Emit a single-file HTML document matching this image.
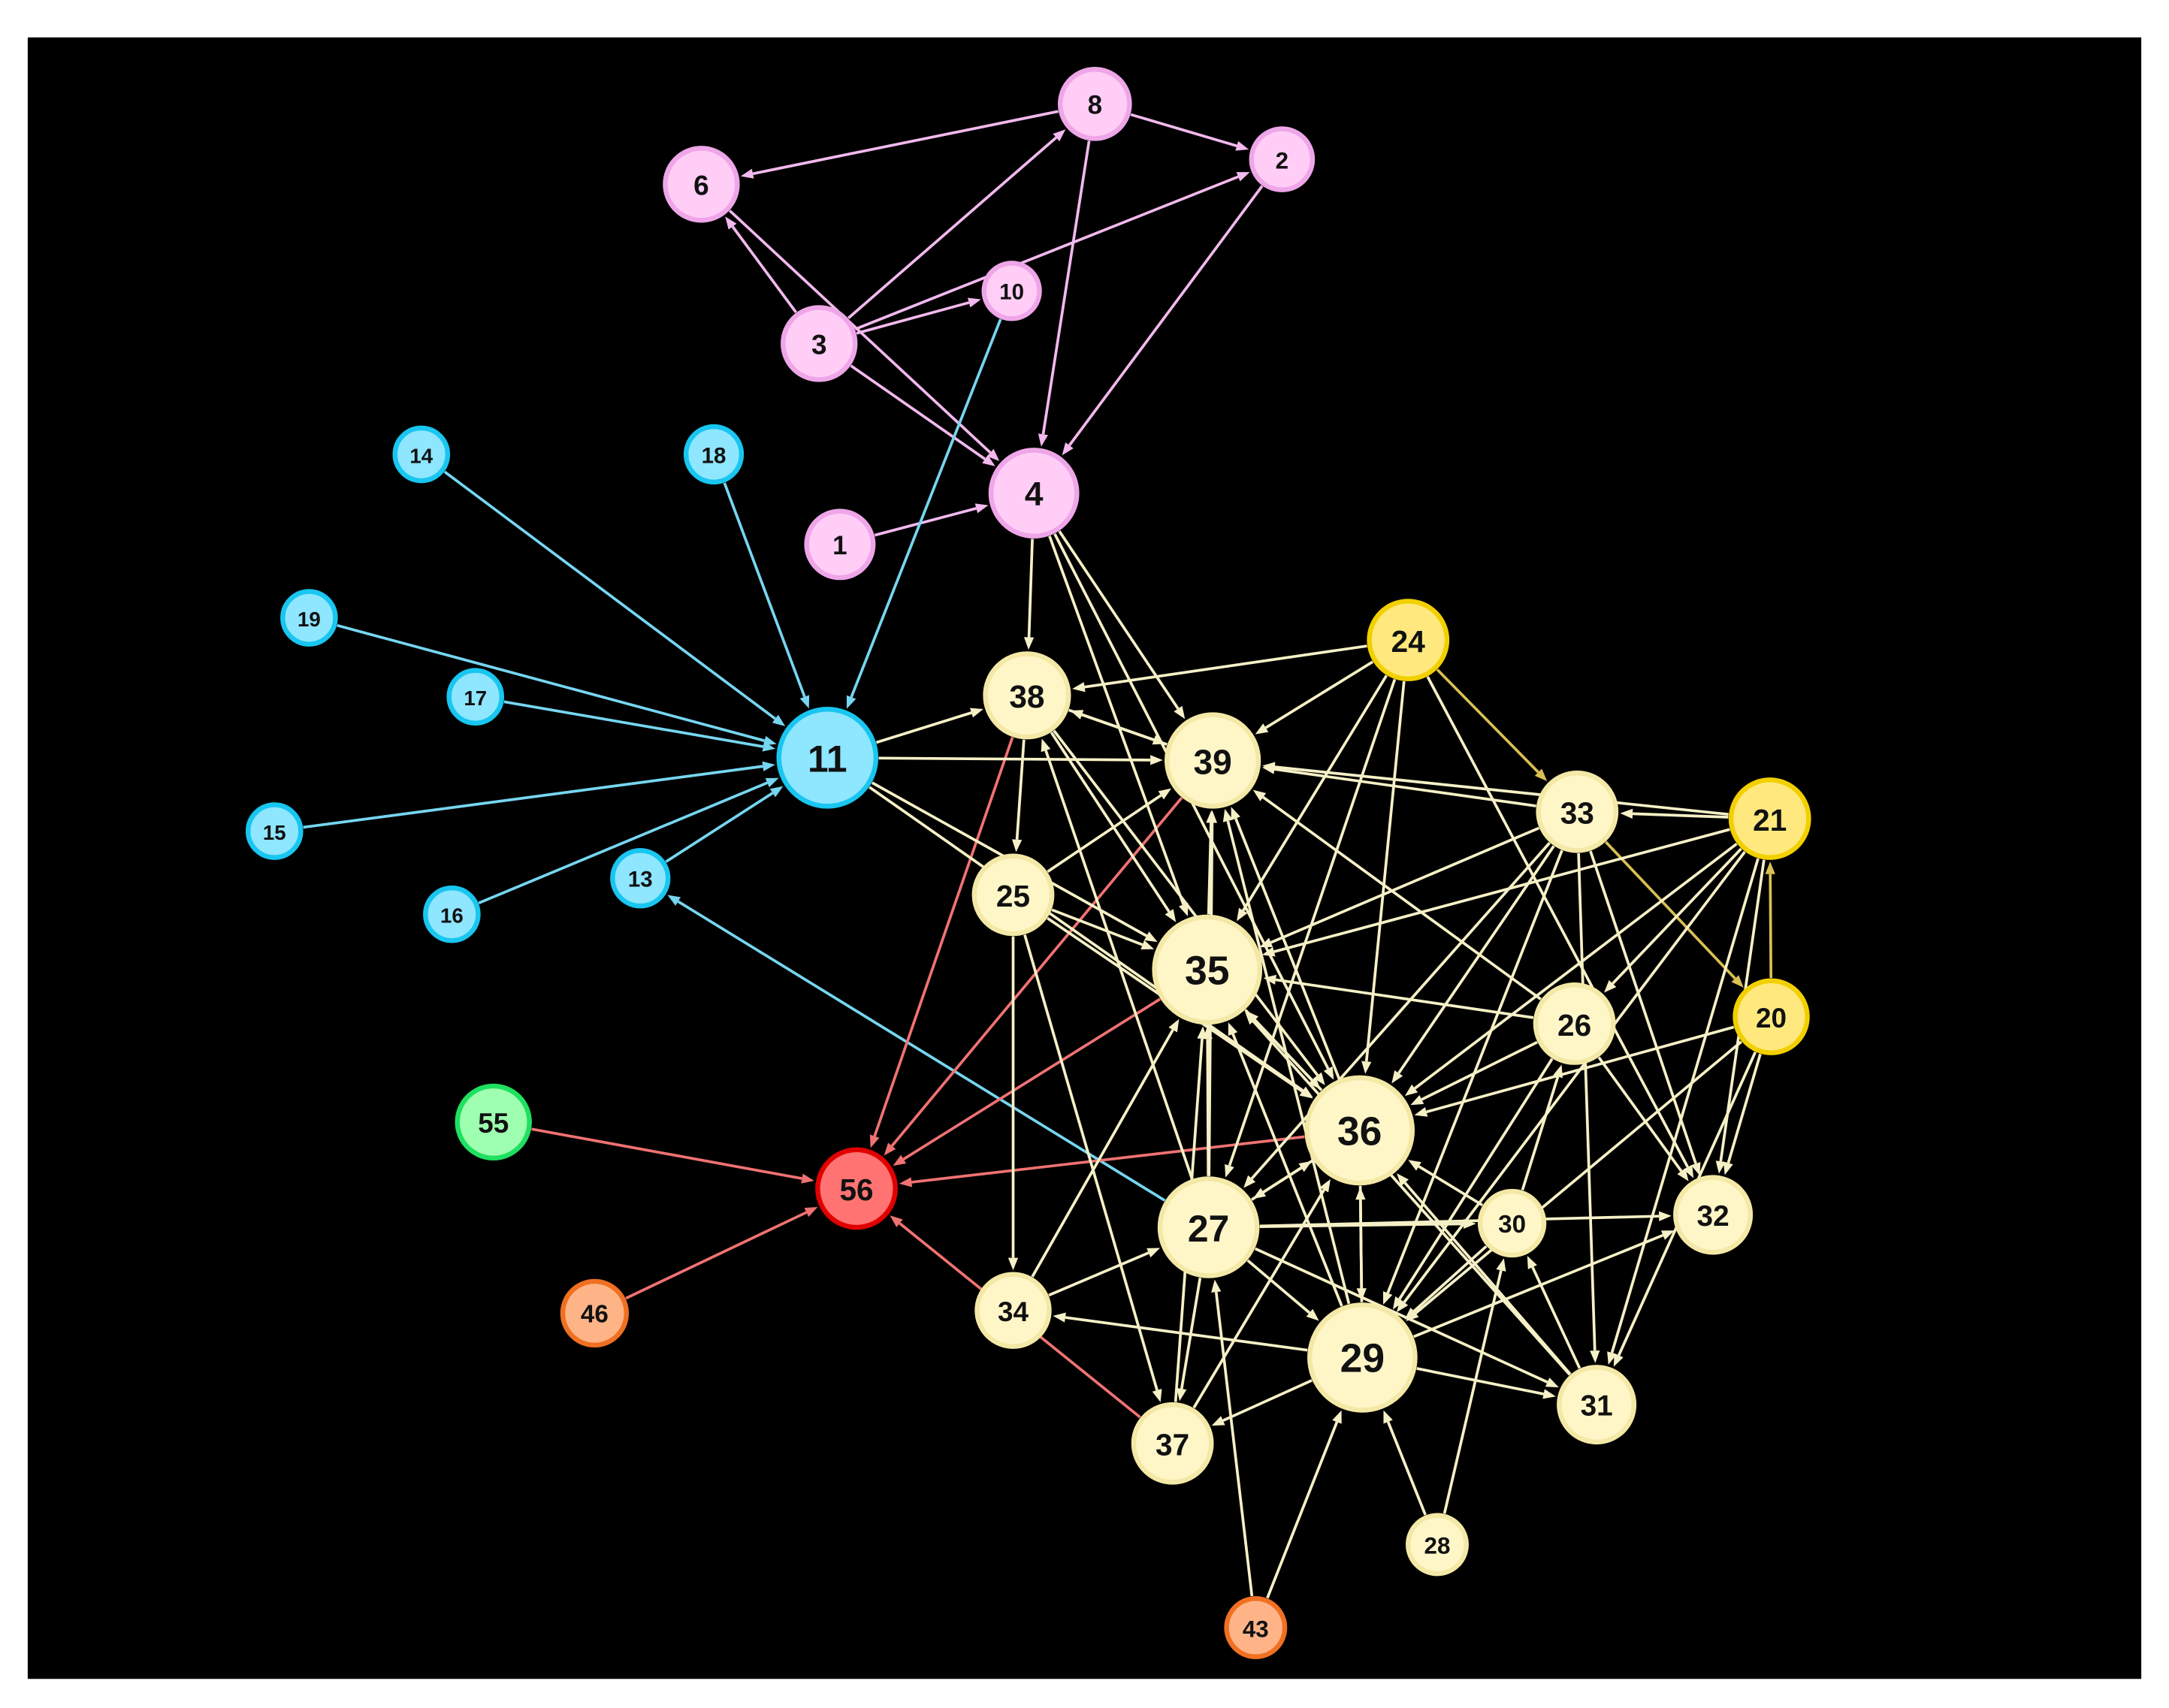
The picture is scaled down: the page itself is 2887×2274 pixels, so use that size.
<!DOCTYPE html>
<html><head><meta charset="utf-8">
<style>
html,body{margin:0;padding:0;background:#fff;}
svg{display:block;}
text{font-family:"Liberation Sans",Arial,sans-serif;font-weight:bold;fill:#111;text-anchor:middle;dominant-baseline:central;}
</style></head>
<body>
<svg id="g" width="2887" height="2274" viewBox="0 0 1565 1233" preserveAspectRatio="none" xmlns="http://www.w3.org/2000/svg">
<rect x="0" y="0" width="1565" height="1233" fill="#fff"/>
<rect x="20" y="27" width="1525" height="1185" fill="#000"/>
<g id="edges"></g>
<g id="nodes"></g>
</svg>
<script>
var C={
 p:["#ffcdf6","#eea6e8"],c:["#8ee6ff","#18c6f0"],y:["#fff6c8","#f3e8a6"],g:["#ffe97e","#f2d000"],
 gr:["#9effb0","#1fe060"],r:["#ff7373","#e00000"],o:["#ffb488","#f07022"]};
var N={
8:[790,75,27,'p'],2:[925,115,24,'p'],6:[506,133,28,'p'],10:[730,210,22,'p'],3:[591,248,28,'p'],4:[746,356,33,'p'],1:[606,393,26,'p'],
14:[304,328,21,'c'],18:[515,328,22,'c'],19:[223,446,21,'c'],17:[343,503,21,'c'],11:[597,547,37,'c'],15:[198,600,21,'c'],13:[462,634,22,'c'],16:[326,660,21,'c'],
24:[1016,462,30,'g'],38:[741,502,32,'y'],39:[875,549,35,'y'],33:[1138,586,30,'y'],21:[1277,591,30,'g'],25:[731,646,30,'y'],35:[871,700,40,'y'],
26:[1136,739,30,'y'],20:[1278,734,28,'g'],36:[981,816,40,'y'],55:[356,810,28,'gr'],56:[618,858,30,'r'],27:[872,886,37,'y'],30:[1091,883,25,'y'],
32:[1236,877,29,'y'],34:[731,946,28,'y'],46:[429,948,25,'o'],29:[983,980,40,'y'],31:[1152,1014,29,'y'],37:[846,1042,30,'y'],28:[1037,1115,23,'y'],43:[906,1175,23,'o']};
var EC={p:"#f2b9ee",c:"#76d6f0",y:"#f6f0c6",r:"#f07272",g:"#d9c052"};
var E=[
[8,6,'p'],[8,2,'p'],[8,4,'p'],[2,4,'p'],[3,8,'p'],[3,2,'p'],[3,10,'p'],[3,6,'p'],[3,4,'p'],[6,4,'p'],[1,4,'p'],
[10,11,'c'],[14,11,'c'],[18,11,'c'],[19,11,'c'],[17,11,'c'],[15,11,'c'],[16,11,'c'],[13,11,'c'],[27,13,'c'],
[38,56,'r'],[39,56,'r'],[35,56,'r'],[36,56,'r'],[55,56,'r'],[46,56,'r'],[37,56,'r'],
[24,33,'g'],[33,20,'g'],[20,21,'g'],
[4,38,'y'],[4,39,'y'],[4,35,'y'],[4,36,'y'],[11,38,'y'],[11,39,'y'],[11,35,'y'],[11,36,'y'],
[24,38,'y'],[24,39,'y'],[24,35,'y'],[24,36,'y'],[24,27,'y'],[24,32,'y'],
[33,39,'y'],[21,39,'y'],[33,35,'y'],[33,36,'y'],[33,27,'y'],[33,32,'y'],[33,31,'y'],[21,33,'y'],
[21,35,'y'],[21,26,'y'],[21,36,'y'],[21,32,'y'],[21,31,'y'],[21,29,'y'],
[20,32,'y'],[20,31,'y'],[20,36,'y'],[20,29,'y'],
[26,39,'y'],[26,35,'y'],[26,36,'y'],[26,32,'y'],[26,29,'y'],
[25,39,'y'],[25,35,'y'],[25,36,'y'],[25,34,'y'],[25,37,'y'],[38,25,'y'],[39,38,'y'],[38,39,'y'],[38,35,'y'],[38,36,'y'],
[35,39,'y'],[35,36,'y'],[36,39,'y'],[36,35,'y'],
[27,35,'y'],[27,36,'y'],[27,38,'y'],[27,39,'y'],[27,29,'y'],[27,31,'y'],[27,37,'y'],[27,32,'y'],[27,30,'y'],
[34,35,'y'],[34,27,'y'],[29,34,'y'],[29,37,'y'],[29,36,'y'],[29,35,'y'],[29,39,'y'],[29,31,'y'],[29,32,'y'],
[30,29,'y'],[30,26,'y'],[30,36,'y'],[31,30,'y'],[31,36,'y'],[31,35,'y'],[28,29,'y'],[28,30,'y'],[43,27,'y'],[43,29,'y'],
[37,36,'y'],[37,35,'y'],[36,27,'y'],[36,29,'y'],[33,29,'y']];
var NS="http://www.w3.org/2000/svg",eg=document.getElementById('edges'),ng=document.getElementById('nodes');
function el(t,a,p){var e=document.createElementNS(NS,t);for(var k in a)e.setAttribute(k,a[k]);p.appendChild(e);return e;}
E.forEach(function(e){
 var a=N[e[0]],b=N[e[1]],col=EC[e[2]];
 var dx=b[0]-a[0],dy=b[1]-a[1],L=Math.sqrt(dx*dx+dy*dy),ux=dx/L,uy=dy/L;
 var x1=a[0]+ux*a[2],y1=a[1]+uy*a[2],x2=b[0]-ux*(b[2]+1),y2=b[1]-uy*(b[2]+1);
 var hl=9,hw=3.6,bx=x2-ux*hl,by=y2-uy*hl;
 el('line',{x1:x1,y1:y1,x2:bx,y2:by,stroke:col,'stroke-width':2},eg);
 el('polygon',{points:x2+','+y2+' '+(bx-uy*hw)+','+(by+ux*hw)+' '+(bx+uy*hw)+','+(by-ux*hw),fill:col},eg);
});
for(var k in N){var n=N[k],c=C[n[3]];
 el('circle',{cx:n[0],cy:n[1],r:n[2]-2,fill:c[0],stroke:c[1],'stroke-width':3.5},ng);
 var t=el('text',{x:n[0],y:n[1]+1,'font-size':Math.round(n[2]*0.72)},ng);t.textContent=k;}
</script>
</body></html>
